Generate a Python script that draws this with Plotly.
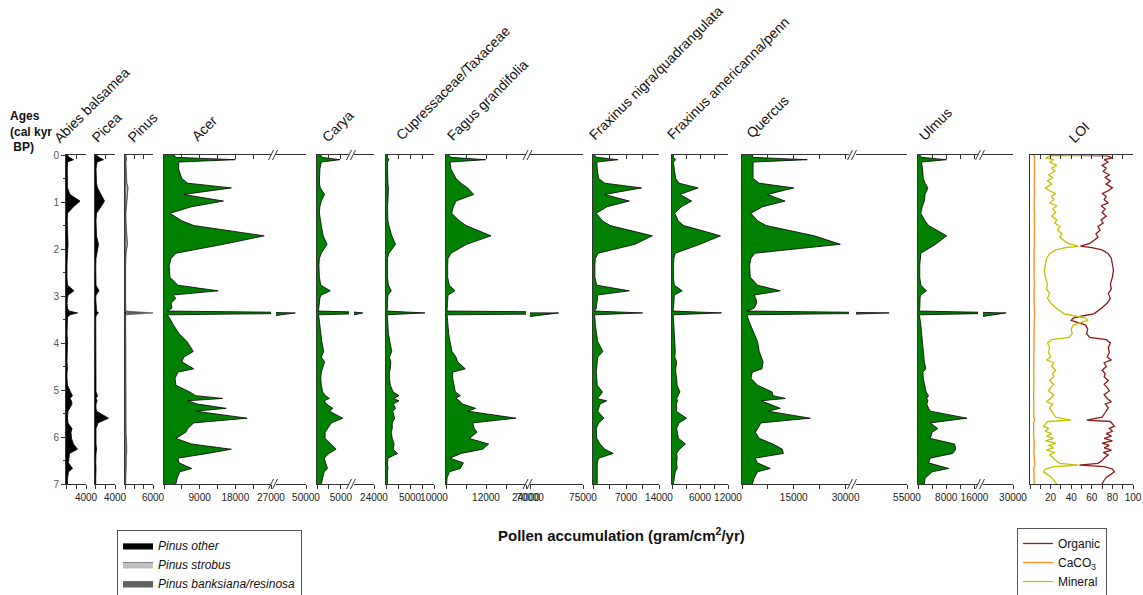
import plotly.graph_objects as go

W, H = 1143, 595

# ---------------- data (ages in cal kyr BP) ----------------
ages = [0.0, 0.05, 0.1, 0.15, 0.3, 0.5, 0.6, 0.7, 0.84, 0.98,
        1.1, 1.24, 1.4, 1.5, 1.72, 1.9, 2.09, 2.2, 2.35, 2.6,
        2.77, 2.89, 2.98, 3.05, 3.15, 3.26, 3.32, 3.36, 3.40, 3.45,
        3.62, 3.8, 3.97, 4.18, 4.3, 4.4, 4.55, 4.62, 4.75, 4.9,
        5.04, 5.12, 5.18, 5.23, 5.3, 5.39, 5.45, 5.6, 5.7, 5.82,
        5.9, 6.03, 6.15, 6.26, 6.35, 6.45, 6.55, 6.67, 6.74, 6.88,
        7.0]

abies = [300, 600, 1500, 300, 250, 250, 250, 300, 800, 2800,
         1500, 300, 250, 300, 400, 400, 300, 200, 200, 200,
         300, 1600, 400, 300, 200, 300, 600, 2300, 800, 300,
         200, 200, 300, 200, 200, 200, 300, 200, 200, 300,
         900, 1300, 800, 1100, 1200, 700, 400, 300, 400, 1200,
         1000, 1100, 1500, 2300, 700, 600, 500, 1300, 500, 300,
         300]

picea = [300, 800, 1700, 400, 200, 200, 300, 500, 1200, 1900,
         1200, 300, 200, 200, 300, 700, 300, 200, 150, 150,
         200, 800, 200, 150, 150, 150, 300, 700, 300, 150,
         150, 150, 150, 150, 150, 150, 300, 150, 150, 150,
         200, 500, 200, 400, 200, 200, 300, 2700, 600, 200,
         150, 200, 200, 300, 200, 150, 150, 200, 150, 150,
         150]

pinus_other = [100, 150, 200, 100, 100, 100, 150, 250, 200, 150,
               100, 100, 100, 100, 150, 200, 100, 80, 80, 80,
               80, 150, 80, 80, 80, 80, 80, 300, 80, 80,
               80, 80, 80, 100, 80, 100, 80, 80, 80, 80,
               100, 100, 80, 100, 80, 80, 80, 150, 100, 150,
               100, 150, 200, 150, 200, 100, 150, 100, 80, 80,
               80]

pinus_strobus = [50, 80, 100, 60, 80, 120, 200, 350, 250, 150,
                 80, 60, 80, 120, 200, 280, 100, 50, 40, 40,
                 50, 100, 40, 40, 40, 40, 40, 400, 40, 40,
                 40, 50, 50, 60, 50, 60, 50, 40, 40, 40,
                 60, 60, 50, 60, 50, 50, 50, 80, 60, 80,
                 60, 80, 120, 150, 100, 60, 80, 60, 50, 40,
                 40]

pinus_banksiana = [20, 30, 40, 20, 20, 30, 40, 60, 50, 40,
                   20, 20, 20, 30, 40, 60, 20, 20, 20, 20,
                   20, 40, 20, 20, 20, 20, 60, 5300, 60, 20,
                   20, 20, 20, 30, 20, 30, 20, 20, 20, 20,
                   30, 30, 20, 30, 20, 20, 20, 60, 40, 60,
                   40, 80, 120, 100, 80, 40, 60, 40, 20, 20,
                   20]

acer = [2500, 3000, 18000, 3700, 3700, 4500, 6000, 17000, 5000, 15000,
        7000, 1500, 4500, 7500, 25300, 15000, 3000, 1800, 1300, 1500,
        3500, 13700, 2200, 3000, 1800, 2000, 800, 45000, 800, 1300,
        2400, 3800, 5800, 7400, 5000, 4500, 7500, 3500, 2800, 3000,
        6500, 8000, 14800, 6000, 8500, 15700, 8000, 21000, 7500, 6000,
        5500, 3000, 7000, 17000, 11000, 3500, 3800, 7000, 4000, 3300,
        3000]

carya = [800, 1000, 4800, 900, 600, 500, 500, 700, 1600, 900,
         600, 500, 700, 900, 1300, 2100, 900, 500, 400, 500,
         800, 2800, 900, 600, 500, 400, 300, 15000, 300, 400,
         600, 700, 1000, 1400, 900, 1600, 1200, 900, 800, 900,
         1200, 1800, 2600, 1500, 2000, 3300, 2600, 5400, 3000, 2200,
         1700, 1700, 3000, 4000, 2500, 1500, 1800, 2200, 1500, 1200,
         900]

cupressaceae = [300, 300, 600, 300, 300, 300, 400, 500, 500, 400,
                300, 300, 400, 600, 1200, 2000, 600, 300, 300, 300,
                500, 1100, 400, 300, 300, 300, 200, 8100, 200, 300,
                400, 500, 800, 1200, 700, 1000, 900, 700, 700, 900,
                1500, 2700, 1600, 2700, 1500, 2000, 1400, 1800, 1300, 1300,
                1100, 1300, 1700, 1500, 2400, 400, 300, 400, 300, 300,
                300]

fagus = [800, 1500, 11900, 1200, 1500, 3000, 4500, 6500, 8300, 3000,
         2200, 1700, 4000, 6000, 13500, 6200, 1500, 600, 500, 500,
         1000, 2700, 600, 500, 400, 400, 300, 72700, 300, 400,
         500, 800, 1200, 1800, 3000, 3500, 5800, 2000, 2000, 2500,
         2800, 4300, 3000, 4000, 5000, 8900, 6500, 21000, 8000, 8500,
         9300, 7000, 12800, 11000, 4500, 1200, 5200, 4300, 1000, 300,
         200]

fraxinus_nigra = [300, 800, 5300, 800, 900, 1200, 2500, 10300, 2500, 7700,
                  3000, 700, 2000, 3600, 12600, 8900, 1100, 500, 400, 400,
                  800, 7700, 900, 1000, 800, 700, 300, 10500, 300, 400,
                  500, 800, 1000, 2100, 1000, 900, 700, 700, 800, 900,
                  2000, 1500, 800, 2900, 1500, 1200, 1000, 2300, 1200, 700,
                  700, 800, 1500, 2500, 4300, 1200, 900, 1000, 900, 900,
                  900]

fraxinus_americ = [300, 300, 800, 300, 500, 800, 1500, 5600, 1700, 4200,
                   2000, 600, 1300, 2500, 10400, 6000, 700, 400, 300, 300,
                   500, 2200, 500, 400, 400, 300, 200, 10600, 200, 300,
                   400, 500, 600, 700, 600, 1000, 800, 800, 1000, 1100,
                   1700, 1300, 1000, 1200, 900, 1000, 900, 3100, 1500, 1000,
                   1100, 1400, 2900, 1600, 1000, 1100, 1000, 1100, 700, 400,
                   300]

quercus = [3000, 3200, 18900, 3200, 3200, 3200, 5000, 15000, 7400, 12500,
           6000, 2600, 4500, 7000, 21000, 28500, 3700, 2600, 2200, 2400,
           4500, 11100, 3500, 4000, 4300, 3500, 1500, 48000, 1500, 1600,
           2500, 3500, 4500, 5000, 5500, 6100, 5800, 3000, 2600, 4500,
           8700, 9000, 12600, 5500, 8000, 11100, 7500, 19800, 5500, 4500,
           3900, 5000, 9000, 11700, 12000, 3800, 4500, 8200, 4500, 3500,
           3000]

ulmus = [500, 1000, 8100, 1000, 1300, 1500, 2000, 2800, 2000, 1800,
         1200, 800, 2000, 3000, 8100, 5000, 800, 600, 500, 500,
         800, 2400, 700, 600, 600, 500, 300, 27700, 300, 500,
         800, 1000, 1200, 1500, 1600, 1800, 2200, 1400, 1500, 2000,
         2300, 3000, 2500, 2800, 2500, 3000, 3500, 13900, 3500, 5600,
         4000, 3500, 10400, 10700, 9800, 3500, 3000, 8700, 4000, 2000,
         1800]

# LOI (percent)
loi_age = [0.00, 0.02, 0.06, 0.10, 0.15, 0.22, 0.28, 0.35, 0.42, 0.48,
           0.55, 0.62, 0.70, 0.76, 0.82, 0.88, 0.95, 1.02, 1.08, 1.15,
           1.22, 1.30, 1.38, 1.45, 1.52, 1.60, 1.68, 1.75, 1.82, 1.88,
           1.94, 1.97, 2.02, 2.10, 2.20, 2.32, 2.45, 2.60, 2.75, 2.85,
           2.95, 3.05, 3.15, 3.25, 3.32, 3.38, 3.42, 3.47, 3.52, 3.57,
           3.62, 3.70, 3.80, 3.88, 3.93, 4.00, 4.10, 4.20, 4.30, 4.36,
           4.42, 4.50, 4.58, 4.65, 4.72, 4.80, 4.88, 4.95, 5.02, 5.10,
           5.18, 5.25, 5.30, 5.38, 5.45, 5.52, 5.58, 5.64, 5.67, 5.72,
           5.77, 5.82, 5.88, 5.93, 5.98, 6.03, 6.08, 6.13, 6.18, 6.23,
           6.28, 6.33, 6.38, 6.43, 6.50, 6.56, 6.60, 6.63, 6.68, 6.74,
           6.80, 6.86, 6.92, 7.00]

organic = [20, 75, 80, 72, 76, 70, 74, 71, 77, 73,
           78, 74, 80, 76, 70, 74, 72, 76, 69, 73,
           70, 74, 69, 71, 66, 68, 64, 66, 62, 58,
           49, 60, 70, 76, 79, 80, 81, 80, 78, 79,
           76, 78, 75, 70, 66, 62, 52, 42, 40, 48,
           54, 56, 55, 58, 74, 78, 76, 77, 75, 79,
           72, 74, 70, 73, 72, 76, 72, 75, 77, 72,
           75, 79, 73, 76, 74, 72, 70, 55, 78, 80,
           82, 77, 80, 74, 79, 72, 80, 70, 77, 72,
           79, 71, 76, 73, 70, 66, 48, 72, 80, 82,
           78, 74, 72, 70]

mineral = [76, 20, 15, 23, 19, 26, 21, 24, 18, 22,
           17, 21, 15, 19, 25, 21, 23, 19, 26, 22,
           25, 21, 26, 24, 29, 27, 31, 29, 33, 37,
           47, 35, 25, 19, 16, 15, 14, 15, 17, 16,
           19, 17, 20, 25, 29, 33, 43, 54, 56, 48,
           42, 40, 41, 38, 21, 17, 19, 18, 20, 16,
           23, 21, 25, 22, 23, 19, 23, 20, 18, 23,
           20, 16, 22, 19, 21, 23, 25, 40, 17, 15,
           13, 18, 15, 21, 16, 23, 15, 25, 18, 23,
           16, 24, 19, 22, 25, 29, 47, 23, 15, 13,
           17, 21, 23, 26]

caco3 = [3, 4, 4.5, 4, 4.4, 4, 4.3, 4.5, 4, 4.2,
         4.4, 4, 4.3, 4.5, 4.1, 4.3, 4, 4.4, 4.2, 4,
         4.3, 4.5, 4.1, 4.3, 4, 4.4, 4.2, 4.5, 4.3, 4.1,
         4.4, 4.2, 4, 4.3, 4.1, 4, 4.2, 4.4, 4.1, 4,
         4.3, 4.1, 4, 4.2, 4.4, 5, 4.6, 4.2, 4, 4.3,
         4.1, 4, 3.9, 4, 3.8, 4, 3.7, 3.9, 3.6, 3.8,
         3.6, 3.8, 3.5, 3.7, 3.6, 3.8, 3.5, 3.7, 3.6, 3.5,
         3.8, 3.5, 3.7, 3.6, 3.8, 3.5, 3.7, 4.6, 3.6, 3.5,
         3.8, 3.6, 3.5, 3.9, 3.6, 3.8, 4, 3.6, 3.8, 4.2,
         3.6, 3.8, 4, 3.7, 3.9, 4.1, 4.6, 3.8, 3.6, 3.8,
         4, 3.9, 4.1, 4]

# tick values / labelled ticks per axis segment
abies_ticks, abies_lab = [0, 2000, 4000], [4000]
picea_ticks, picea_lab = [0, 2000, 4000], [4000]
pinus_ticks, pinus_lab = [0, 2000, 4000, 6000], [6000]
acer_ticks1, acer_lab1 = [0, 4500, 9000, 13500, 18000, 22500, 27000], [9000, 18000, 27000]
acer_ticks2, acer_lab2 = [50000], [50000]
carya_ticks1, carya_lab1 = [0, 2500, 5000], [5000]
carya_ticks2, carya_lab2 = [24000], [24000]
cupr_ticks, cupr_lab = [0, 2500, 5000, 7500, 10000], [5000, 10000]
fagus_ticks1, fagus_lab1 = [0, 6000, 12000, 18000, 24000], [12000, 24000]
fagus_ticks2, fagus_lab2 = [70000, 75000], [70000, 75000]
fnig_ticks, fnig_lab = [0, 3500, 7000, 10500, 14000], [7000, 14000]
fame_ticks, fame_lab = [0, 3000, 6000, 9000, 12000], [6000, 12000]
querc_ticks1, querc_lab1 = [0, 7500, 15000, 22500, 30000], [15000, 30000]
querc_ticks2, querc_lab2 = [55000], [55000]
ulmus_ticks1, ulmus_lab1 = [0, 4000, 8000, 12000, 16000], [8000, 16000]
ulmus_ticks2, ulmus_lab2 = [30000], [30000]
loi_ticks = [0, 10, 20, 30, 40, 50, 60, 70, 80, 90, 100]
loi_lab = [20, 40, 60, 80, 100]

# ---------------- layout helpers ----------------
FONT = "Liberation Sans, Arial, sans-serif"
GREEN = "rgb(0,128,0)"
AXC = "#333333"
Y_TOP, Y_BOT = 155, 484


def fx(px):
    return px / W


def fy(py):
    return 1 - py / H


ydom = [fy(Y_BOT), fy(Y_TOP)]

# panel: label, label position, segments (px0, px1, range, ticks, labelled), series kind
panels = [
    ("Abies balsamea", (48, 149), [(66, 86, [0, 4000], abies_ticks, abies_lab)], "black", abies),
    ("Picea", (86, 148), [(95, 115, [0, 4000], picea_ticks, picea_lab)], "black", picea),
    ("Pinus", (122, 148), [(125, 153, [0, 6000], pinus_ticks, pinus_lab)], "pinus", None),
    ("Acer", (186, 147), [(164, 271, [0, 27000], acer_ticks1, acer_lab1),
                          (276, 306, [36000, 50000], acer_ticks2, acer_lab2)], "green", acer),
    ("Carya", (316, 148), [(317, 349, [0, 6700], carya_ticks1, carya_lab1),
                           (354, 374, [8000, 24000], carya_ticks2, carya_lab2)], "green", carya),
    ("Cupressaceae/Taxaceae", (390, 146), [(386, 434, [0, 10000], cupr_ticks, cupr_lab)], "green", cupressaceae),
    ("Fagus grandifolia", (441, 147), [(446, 526, [0, 24000], fagus_ticks1, fagus_lab1),
                                       (530, 583, [70000, 75000], fagus_ticks2, fagus_lab2)], "green", fagus),
    ("Fraxinus nigra/quadrangulata", (583, 146), [(593, 659, [0, 14000], fnig_ticks, fnig_lab)], "green", fraxinus_nigra),
    ("Fraxinus americanna/penn", (661, 145), [(672, 728, [0, 12000], fame_ticks, fame_lab)], "green", fraxinus_americ),
    ("Quercus", (740, 144), [(742, 849, [0, 31000], querc_ticks1, querc_lab1),
                             (856, 907, [35000, 55000], querc_ticks2, querc_lab2)], "green", quercus),
    ("Ulmus", (913, 147), [(918, 978, [0, 17000], ulmus_ticks1, ulmus_lab1),
                           (983, 1013, [20000, 30000], ulmus_ticks2, ulmus_lab2)], "green", ulmus),
    ("LOI", (1063, 149), [(1030, 1133, [0, 100], loi_ticks, loi_lab)], "loi", None),
]

fig = go.Figure()
layout = {}
annotations = []
shapes = []


def aname(kind, i):
    return f"{kind}axis" if i == 1 else f"{kind}axis{i}"


def aref(kind, i):
    return kind if i == 1 else f"{kind}{i}"


xi = 0
yi = 0
for label, (lx, ly), segs, kind, vals in panels:
    yi += 1
    first_x = xi + 1
    yax = dict(domain=ydom, range=[7, 0], anchor=aref("x", first_x), showline=True,
               linecolor=AXC, linewidth=1, showgrid=False, zeroline=False,
               showticklabels=False, ticks="", automargin=False)
    if yi == 1:
        yax.update(showticklabels=True, ticks="outside", ticklen=4, tickcolor=AXC,
                   tickvals=[0, 1, 2, 3, 4, 5, 6, 7],
                   tickfont=dict(family=FONT, size=10, color="#555555"),
                   minor=dict(tickvals=[0.5, 1.5, 2.5, 3.5, 4.5, 5.5, 6.5],
                              ticks="outside", ticklen=2, tickcolor=AXC))
    layout[aname("y", yi)] = yax
    yref = aref("y", yi)
    for si, (p0, p1, rng, tv, tl) in enumerate(segs):
        xi += 1
        base = xi
        ttext = [str(v) if v in tl else "" for v in tv]
        layout[aname("x", base)] = dict(
            domain=[fx(p0), fx(p1)], range=rng, anchor=yref, side="bottom",
            showline=True, mirror=True, linecolor=AXC, linewidth=1, ticks="outside", ticklen=4,
            tickcolor=AXC, tickmode="array", tickvals=tv, ticktext=ttext, tickangle=0,
            tickfont=dict(family=FONT, size=10, color="#222222"),
            showgrid=False, zeroline=False, automargin=False)
        xi += 1
        top = xi
        layout[aname("x", top)] = dict(
            overlaying=aref("x", base), range=rng, anchor=yref, side="top",
            showline=True, linecolor=AXC, linewidth=1, ticks="inside", ticklen=4,
            tickcolor=AXC, tickmode="array", tickvals=tv, showticklabels=False,
            showgrid=False, zeroline=False, automargin=False)
        fig.add_trace(go.Scatter(x=[None], y=[None], xaxis=aref("x", top), yaxis=yref,
                                 mode="lines", showlegend=False, hoverinfo="skip"))
        xr = aref("x", base)
        if kind in ("black", "green"):
            col = "black" if kind == "black" else GREEN
            fig.add_trace(go.Scatter(x=vals, y=ages, xaxis=xr, yaxis=yref, mode="lines",
                                     fill="tozerox", fillcolor=col,
                                     line=dict(color="black", width=0.8),
                                     showlegend=False, hoverinfo="skip"))
        elif kind == "pinus":
            for nm, v, c, rk in [("Pinus other", pinus_other, "black", 1),
                                 ("Pinus strobus", pinus_strobus, "#c0c0c0", 2),
                                 ("Pinus banksiana/resinosa", pinus_banksiana, "#606060", 3)]:
                fig.add_trace(go.Scatter(x=v, y=ages, xaxis=xr, yaxis=yref, mode="lines",
                                         stackgroup="pinus", orientation="h", fillcolor=c,
                                         line=dict(color="#404040", width=0.6),
                                         name=nm, legend="legend", legendrank=rk,
                                         showlegend=True, hoverinfo="skip"))
        elif kind == "loi":
            for nm, v, c, rk in [("Organic", organic, "#8b1a1a", 1),
                                 ("CaCO<sub>3</sub>", caco3, "#ff8c1a", 2),
                                 ("Mineral", mineral, "#c2c200", 3)]:
                fig.add_trace(go.Scatter(x=v, y=loi_age, xaxis=xr, yaxis=yref, mode="lines",
                                         line=dict(color=c, width=1.3),
                                         name=nm, legend="legend2", legendrank=rk,
                                         showlegend=True, hoverinfo="skip"))
    # break marks
    if len(segs) == 2:
        xb = (segs[0][1] + segs[1][0]) / 2
        for yy in (Y_TOP, Y_BOT):
            for dx in (-3, 1):
                shapes.append(dict(type="line", xref="paper", yref="paper",
                                   x0=fx(xb + dx - 2), y0=fy(yy + 5),
                                   x1=fx(xb + dx + 3), y1=fy(yy - 5),
                                   line=dict(color=AXC, width=1)))
    annotations.append(dict(text=label, x=fx(lx), y=fy(ly), xref="paper", yref="paper",
                            xanchor="left", yanchor="bottom", textangle=-45, showarrow=False,
                            font=dict(family=FONT, size=14, color="#111111")))

annotations.append(dict(text="<b>Ages<br>(cal kyr<br> BP)</b>", x=fx(8), y=fy(107),
                        xref="paper", yref="paper", xanchor="left", yanchor="top",
                        align="left", showarrow=False,
                        font=dict(family=FONT, size=12, color="#111111")))
annotations.append(dict(text="<b>Pollen accumulation (gram/cm<sup>2</sup>/yr)</b>",
                        x=fx(622), y=fy(534), xref="paper", yref="paper",
                        xanchor="center", yanchor="middle", showarrow=False,
                        font=dict(family=FONT, size=15, color="#111111")))

fig.update_layout(**layout)
fig.update_layout(
    width=W, height=H, margin=dict(l=0, r=0, t=0, b=0, autoexpand=False),
    paper_bgcolor="white", plot_bgcolor="rgba(0,0,0,0)",
    annotations=annotations, shapes=shapes,
    legend=dict(x=fx(117), y=fy(530), xanchor="left", yanchor="top",
                bordercolor="#555555", borderwidth=1, bgcolor="white",
                font=dict(family=FONT, size=12, color="#111111", style="italic"),
                itemwidth=30, tracegroupgap=0, traceorder="normal"),
    legend2=dict(x=fx(1017), y=fy(528), xanchor="left", yanchor="top",
                 bordercolor="#555555", borderwidth=1, bgcolor="white",
                 font=dict(family=FONT, size=12, color="#111111"),
                 itemwidth=30, tracegroupgap=0, traceorder="normal"),
)

fig.write_html("out.html")
